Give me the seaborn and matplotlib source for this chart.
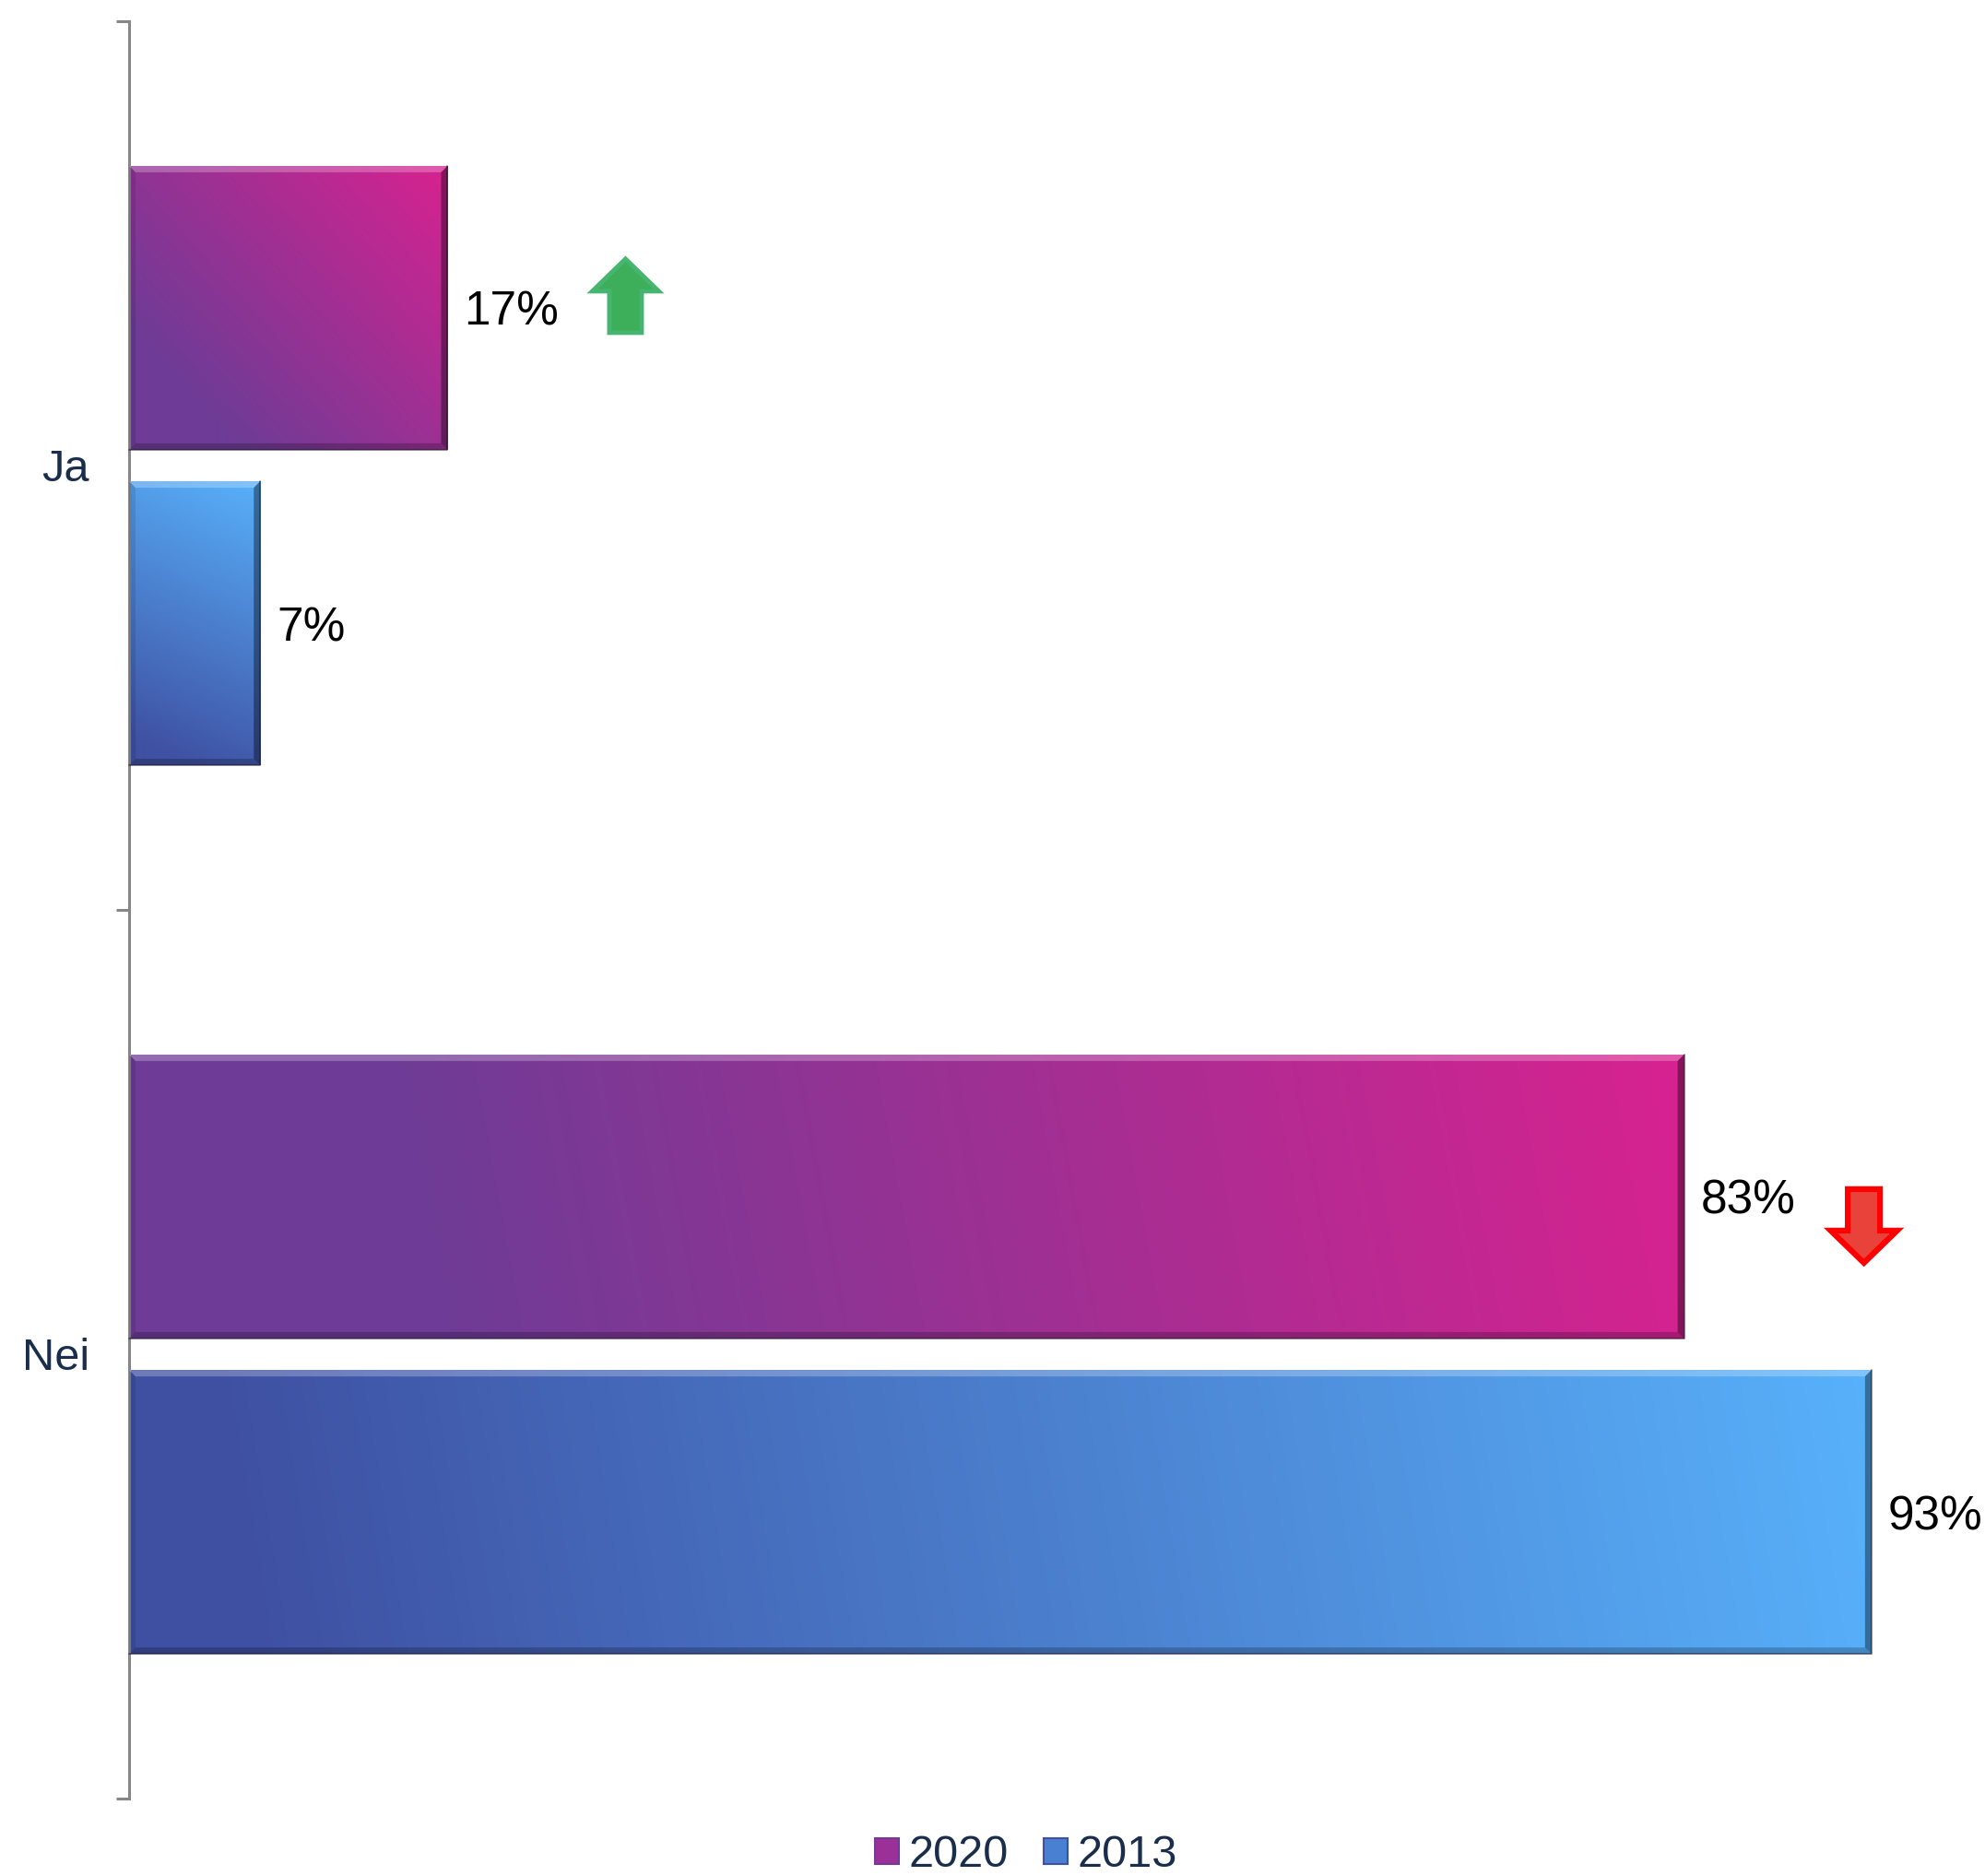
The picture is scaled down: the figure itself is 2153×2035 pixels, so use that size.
import numpy as np
import pandas as pd
import matplotlib
matplotlib.use("Agg")
import matplotlib.pyplot as plt
import seaborn as sns
from matplotlib.colors import LinearSegmentedColormap
from matplotlib.patches import Patch, Polygon
from matplotlib.transforms import IdentityTransform

# ---- data ----
categories = ["Ja", "Nei"]
years = ["2020", "2013"]
values_2020 = [17, 83]
values_2013 = [7, 93]

df = pd.DataFrame({
    "svar": categories * 2,
    "år": [years[0]] * len(categories) + [years[1]] * len(categories),
    "andel": values_2020 + values_2013,
})

# ---- styling ----
DARK = {"2020": "#6E3C96", "2013": "#3F51A3"}
LIGHT = {"2020": "#D82290", "2013": "#58B1FB"}
FLAT = {"2020": 0.2, "2013": 0.08}
MID = {"2020": "#9B3099", "2013": "#4A80D2"}
TEXT_NAVY = "#1A2E4C"
AXIS_GREY = "#868686"

sns.set_theme(style="white")
plt.rcParams["font.family"] = ["Liberation Sans", "DejaVu Sans"]

W, H, DPI = 2153, 2035, 100
fig = plt.figure(figsize=(W / DPI, H / DPI), dpi=DPI)
ax = fig.add_axes([140 / W, 84 / H, 1 - 140 / W, 1928 / H])

sns.barplot(data=df, y="svar", x="andel", hue="år", hue_order=years,
            order=categories, orient="h", width=0.71, gap=0.1,
            palette=MID, legend=False, ax=ax)

XMAX = 99.06
ax.set_xlim(0, XMAX)
ax.set_ylim(1.5, -0.5)

cmaps = {
    y: LinearSegmentedColormap.from_list(
        f"grad{y}", [(0.0, DARK[y]), (FLAT[y], DARK[y]), (1.0, LIGHT[y])])
    for y in years
}


def disp(x, y):
    return ax.transData.transform((x, y))


def bevel(x0, y0, x1, y1, b=7):
    """x0,y0 bottom-left and x1,y1 top-right in display pixels."""
    faces = [
        ([(x0, y1), (x1, y1), (x1 - b, y1 - b), (x0 + b, y1 - b)], "white", 0.25),
        ([(x1, y1), (x1, y0), (x1 - b, y0 + b), (x1 - b, y1 - b)], "black", 0.38),
        ([(x0, y0), (x1, y0), (x1 - b, y0 + b), (x0 + b, y0 + b)], "black", 0.22),
        ([(x0, y0), (x0, y1), (x0 + b, y1 - b), (x0 + b, y0 + b)], "black", 0.10),
    ]
    for pts, col, a in faces:
        fig.add_artist(Polygon(pts, closed=True, facecolor=col, alpha=a,
                               edgecolor="none", transform=IdentityTransform(),
                               zorder=4))
    fig.add_artist(plt.Line2D([x1, x1, x0], [y1, y0, y0], color="#1E1430",
                              alpha=0.6, lw=1.2, transform=IdentityTransform(),
                              zorder=5))


def arrow(cx, cy, up, face, edge, lw):
    hw, sw, hh, half = 36, 17.5, 35, 40
    if up:
        pts = [(cx, cy + half), (cx + hw, cy + half - hh), (cx + sw, cy + half - hh),
               (cx + sw, cy - half), (cx - sw, cy - half), (cx - sw, cy + half - hh),
               (cx - hw, cy + half - hh)]
    else:
        pts = [(cx, cy - half), (cx + hw, cy - half + hh), (cx + sw, cy - half + hh),
               (cx + sw, cy + half), (cx - sw, cy + half), (cx - sw, cy - half + hh),
               (cx - hw, cy - half + hh)]
    fig.add_artist(Polygon(pts, closed=True, facecolor=face, edgecolor=edge,
                           lw=lw, joinstyle="miter", transform=IdentityTransform(),
                           zorder=6))


bars_by_year = {}
for year, container in zip(years, ax.containers):
    cmap = cmaps[year]
    vals = values_2020 if year == "2020" else values_2013
    for bar, v in zip(container, vals):
        bx, by, bw, bh = bar.get_x(), bar.get_y(), bar.get_width(), bar.get_height()
        bar.set_facecolor("none")
        bar.set_edgecolor("none")
        (px0, py_top) = disp(bx, by)
        (px1, py_bot) = disp(bx + bw, by + bh)
        wp, hp = px1 - px0, py_top - py_bot
        nw, nh = max(int(round(wp)), 2), max(int(round(hp)), 2)
        xs = (np.arange(nw) + 0.5) * wp / nw
        ys = ((nh - 1 - np.arange(nh)) + 0.5) * hp / nh
        X, Y = np.meshgrid(xs, ys)
        t = (X * wp + Y * hp) / (wp ** 2 + hp ** 2)
        ax.imshow(cmap(np.clip(t, 0, 1)), extent=(bx, bx + bw, by + bh, by),
                  origin="upper", aspect="auto", interpolation="bilinear",
                  zorder=2)
        bevel(px0, py_bot, px1, py_top)
        ax.annotate(f"{v}%", xy=(bx + bw, by + bh / 2), xytext=(13, 0),
                    textcoords="offset points", ha="left", va="center_baseline",
                    fontsize=37, color="black")
        bars_by_year.setdefault(year, []).append((px1, (py_top + py_bot) / 2))

# change indicators next to the 2020 values
for i, (v_new, v_old) in enumerate(zip(values_2020, values_2013)):
    ex, ey = bars_by_year["2020"][i]
    if v_new > v_old:
        arrow(ex + 193, ey + 13, True, "#3DAF5A", "#45B56F", 3.5)
    else:
        arrow(ex + 195, ey - 32, False, "#E8423A", "#FF0000", 4.5)

ax.set_xlim(0, XMAX)
ax.set_ylim(1.5, -0.5)

# ---- axes ----
for side in ["top", "right", "bottom"]:
    ax.spines[side].set_visible(False)
ax.spines["left"].set_color(AXIS_GREY)
ax.spines["left"].set_linewidth(2.2)
ax.set_xticks([])
ax.set_xlabel("")
ax.set_ylabel("")
ax.set_yticks([0, 1])
ax.set_yticklabels(categories)
ax.set_yticks([-0.5, 0.5, 1.5], minor=True)
ax.tick_params(axis="y", which="major", length=0, pad=31, labelsize=35,
               labelcolor=TEXT_NAVY)
ax.tick_params(axis="y", which="minor", length=10, width=2.2, color=AXIS_GREY,
               direction="out", left=True)

handles = [Patch(facecolor=MID[y], edgecolor=DARK[y], lw=1.5) for y in years]
fig.legend(handles, years, loc="lower center", bbox_to_anchor=(0.517, 0.0),
           ncol=2, frameon=False, fontsize=35, handlelength=0.52,
           handleheight=0.52, handletextpad=0.22, columnspacing=0.8,
           labelcolor=TEXT_NAVY, borderpad=0, borderaxespad=0)

fig.savefig("out.png", dpi=DPI)
